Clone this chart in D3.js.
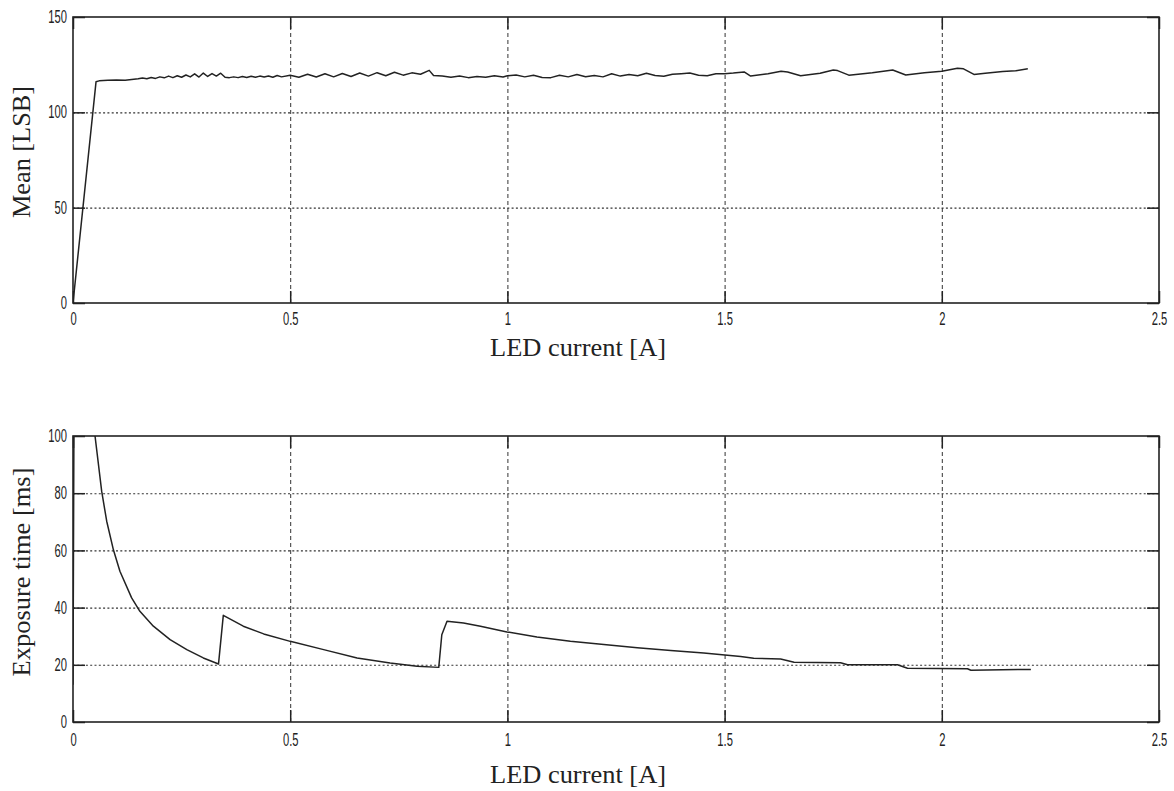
<!DOCTYPE html>
<html>
<head>
<meta charset="utf-8">
<script src="https://cdn.jsdelivr.net/npm/d3@7"></script>
<style>
  html, body { margin: 0; padding: 0; background: #fff; }
  svg { display: block; }
  .tick text { font-family: "Liberation Sans", Arial, sans-serif; font-size: 16px; fill: #222; }
  .lbl { font-family: "Liberation Serif", "Times New Roman", serif; font-size: 25px; fill: #222; }
</style>
</head>
<body>
<svg id="chart" width="1174" height="791"></svg>
<script>
// ---------------- data ----------------
const xTicks = [0, 0.5, 1, 1.5, 2, 2.5];
const xTickLabels = ["0", "0.5", "1", "1.5", "2", "2.5"];
const meanTicks = [0, 50, 100, 150];
const expTicks = [0, 20, 40, 60, 80, 100];

const meanX = [0, 0.053, 0.06, 0.08, 0.10, 0.12, 0.14, 0.15, 0.16, 0.17, 0.18, 0.19, 0.20, 0.21, 0.22, 0.23, 0.24, 0.25, 0.26, 0.27, 0.28, 0.29, 0.30, 0.31, 0.32, 0.33, 0.34, 0.35, 0.36, 0.37, 0.38, 0.39, 0.40, 0.41, 0.42, 0.43, 0.44, 0.45, 0.46, 0.47, 0.48, 0.50, 0.52, 0.54, 0.56, 0.58, 0.60, 0.62, 0.64, 0.66, 0.68, 0.70, 0.72, 0.74, 0.76, 0.78, 0.80, 0.82, 0.83, 0.85, 0.87, 0.89, 0.91, 0.93, 0.95, 0.97, 0.99, 1.00, 1.02, 1.04, 1.06, 1.08, 1.10, 1.12, 1.14, 1.16, 1.18, 1.20, 1.22, 1.24, 1.26, 1.28, 1.30, 1.32, 1.34, 1.36, 1.38, 1.40, 1.42, 1.44, 1.46, 1.48, 1.50, 1.52, 1.545, 1.56, 1.60, 1.63, 1.645, 1.675, 1.72, 1.75, 1.76, 1.786, 1.84, 1.887, 1.917, 1.96, 2.00, 2.036, 2.05, 2.074, 2.10, 2.14, 2.17, 2.198];
const meanY = [0, 116, 116.5, 116.8, 117, 116.8, 117.3, 117.6, 118, 117.6, 118.3, 117.8, 118.6, 118.1, 119, 118.2, 119.2, 118.4, 119.6, 118.6, 120.2, 118.5, 120.6, 118.8, 120.3, 119, 120.5, 118.4, 118.2, 118.6, 118.2, 118.8, 118.3, 118.9, 118.4, 119, 118.5, 119.1, 118.4, 119.3, 118.6, 119.5, 118.4, 120, 118.5, 120.2, 118.6, 120.4, 118.8, 120.6, 119, 120.8, 119.2, 121, 119.5, 120.7, 120, 122, 119.3, 119, 118.4, 119, 118.2, 118.8, 118.4, 119.2, 118.5, 119.2, 119.6, 118.6, 119.5, 118.3, 118.2, 119.4, 118.6, 119.8, 118.7, 119.3, 118.6, 120.2, 119, 119.8, 119.2, 120.5, 119.3, 118.9, 120, 120.3, 120.6, 119.5, 119.2, 120.2, 120.3, 120.6, 121.2, 119, 120.2, 121.5, 121.2, 119.2, 120.5, 122.2, 121.9, 119.5, 120.8, 122.2, 119.6, 120.8, 121.5, 123.1, 122.8, 119.9, 120.5, 121.4, 121.8, 122.8];

const expX = [0, 0.003, 0.048, 0.0507, 0.066, 0.0776, 0.093, 0.108, 0.135, 0.154, 0.185, 0.2235, 0.262, 0.300, 0.335, 0.346, 0.392, 0.439, 0.50, 0.577, 0.654, 0.730, 0.792, 0.842, 0.849, 0.861, 0.899, 0.938, 0.999, 1.068, 1.145, 1.222, 1.299, 1.376, 1.452, 1.537, 1.567, 1.629, 1.66, 1.767, 1.783, 1.898, 1.921, 2.059, 2.067, 2.205];
const expY = [13, 140, 115, 100, 80.7, 70.2, 60.2, 52.7, 43.4, 38.7, 33.5, 28.8, 25.3, 22.4, 20.3, 37.3, 33.5, 30.8, 28.2, 25.3, 22.4, 20.6, 19.5, 19.1, 30.5, 35.2, 34.6, 33.5, 31.5, 29.7, 28.2, 27.1, 26.0, 25.0, 24.1, 22.9, 22.3, 22.0, 20.9, 20.7, 20.0, 20.0, 18.8, 18.6, 18.1, 18.4];

// ---------------- drawing ----------------
const svg = d3.select("#chart");
const left = 73, right = 1159;
const SX = 0.7, SY = 1.1; // condensed look of the tick digits

const panels = [
  { top: 17, bottom: 303, domain: [0, 150], ticks: meanTicks, xs: meanX, ys: meanY,
    ylabel: "Mean [LSB]", ylabelLen: 132, ylabelY: 152, xlabelBase: 356, tickPad: 10 },
  { top: 436, bottom: 722, domain: [0, 100], ticks: expTicks, xs: expX, ys: expY,
    ylabel: "Exposure time [ms]", ylabelLen: 209, ylabelY: 572, xlabelBase: 783, tickPad: 12 }
];

function condense(sel) {
  sel.selectAll(".tick text").each(function () {
    const t = d3.select(this);
    const x = +t.attr("x") || 0, y = +t.attr("y") || 0;
    t.attr("x", x / SX).attr("y", y / SY).attr("transform", `scale(${SX},${SY})`);
  });
}

panels.forEach((p, i) => {
  const x = d3.scaleLinear().domain([0, 2.5]).range([left, right]);
  const y = d3.scaleLinear().domain(p.domain).range([p.bottom, p.top]);
  const w = right - left, h = p.bottom - p.top;
  const g = svg.append("g");

  // grid
  g.append("g").attr("transform", `translate(0,${p.bottom})`)
    .call(d3.axisBottom(x).tickValues(xTicks.slice(1, -1)).tickSize(-h).tickFormat(""))
    .call(s => s.select(".domain").remove())
    .call(s => s.selectAll("line").attr("stroke", "#333").attr("stroke-width", 1).attr("stroke-dasharray", "4,3"));
  g.append("g").attr("transform", `translate(${left},0)`)
    .call(d3.axisLeft(y).tickValues(p.ticks.slice(1, -1)).tickSize(-w).tickFormat(""))
    .call(s => s.select(".domain").remove())
    .call(s => s.selectAll("line").attr("stroke", "#333").attr("stroke-width", 1.1).attr("stroke-dasharray", "2,2.3"));

  // clip for the series
  const clipId = "clip" + i;
  svg.append("clipPath").attr("id", clipId).append("rect")
    .attr("x", left).attr("y", p.top).attr("width", w).attr("height", h);

  const data = p.xs.map((v, k) => [v, p.ys[k]]);
  g.append("path").datum(data)
    .attr("clip-path", `url(#${clipId})`)
    .attr("fill", "none").attr("stroke", "#222").attr("stroke-width", 1.5)
    .attr("stroke-linejoin", "round")
    .attr("d", d3.line().x(d => x(d[0])).y(d => y(d[1])));

  // axes with inward ticks
  const fmt = (d) => xTickLabels[xTicks.indexOf(d)];
  g.append("g").attr("transform", `translate(0,${p.bottom})`)
    .call(d3.axisBottom(x).tickValues(xTicks).tickSize(-12).tickPadding(p.tickPad).tickFormat(fmt))
    .call(s => s.select(".domain").remove())
    .call(s => s.selectAll("line").attr("stroke", "#222").attr("stroke-width", 1.5))
    .call(condense);
  g.append("g").attr("transform", `translate(0,${p.top})`)
    .call(d3.axisTop(x).tickValues(xTicks).tickSize(-12).tickFormat(""))
    .call(s => s.select(".domain").remove())
    .call(s => s.selectAll("line").attr("stroke", "#222").attr("stroke-width", 1.5));
  g.append("g").attr("transform", `translate(${left},0)`)
    .call(d3.axisLeft(y).tickValues(p.ticks).tickSize(-12).tickPadding(6).tickFormat(d3.format("d")))
    .call(s => s.select(".domain").remove())
    .call(s => s.selectAll("line").attr("stroke", "#222").attr("stroke-width", 1.5))
    .call(condense);
  g.append("g").attr("transform", `translate(${right},0)`)
    .call(d3.axisRight(y).tickValues(p.ticks).tickSize(-12).tickFormat(""))
    .call(s => s.select(".domain").remove())
    .call(s => s.selectAll("line").attr("stroke", "#222").attr("stroke-width", 1.5));

  // frame
  g.append("rect").attr("x", left).attr("y", p.top).attr("width", w).attr("height", h)
    .attr("fill", "none").attr("stroke", "#222").attr("stroke-width", 1.6);

  // labels
  g.append("text").attr("class", "lbl")
    .attr("x", 578).attr("y", p.xlabelBase)
    .attr("text-anchor", "middle")
    .attr("textLength", 176).attr("lengthAdjust", "spacingAndGlyphs")
    .text("LED current [A]");
  g.append("text").attr("class", "lbl")
    .attr("transform", `translate(30,${p.ylabelY}) rotate(-90)`)
    .attr("text-anchor", "middle")
    .attr("textLength", p.ylabelLen).attr("lengthAdjust", "spacingAndGlyphs")
    .text(p.ylabel);
});
</script>
</body>
</html>
